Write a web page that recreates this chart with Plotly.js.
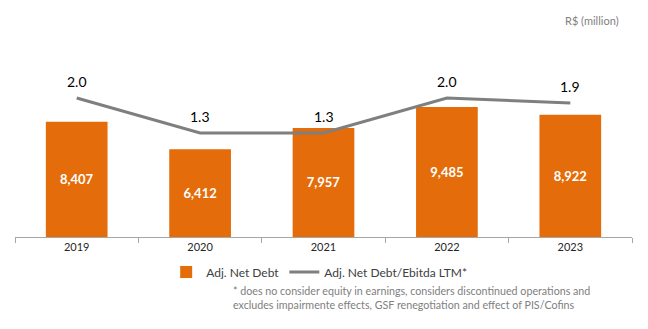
<!DOCTYPE html>
<html>
<head>
<meta charset="utf-8">
<script src="https://cdn.plot.ly/plotly-3.0.1.min.js"></script>
<style>html,body{margin:0;padding:0;background:#fff;}#chart{width:648px;height:329px;}</style>
</head>
<body>
<div id="chart"></div>
<script>
const years = ['2019', '2020', '2021', '2022', '2023'];
const netDebt = [8407, 6412, 7957, 9485, 8922];
const leverage = [2.0, 1.3, 1.3, 2.0, 1.9];
const seriesNames = ['Adj. Net Debt', 'Adj. Net Debt/Ebitda LTM*'];

const FONT = 'Lato, "Open Sans", "DejaVu Sans", sans-serif';

const traces = [
  {
    type: 'bar', x: years, y: netDebt, name: seriesNames[0],
    marker: {color: '#E46C0A'},
    texttemplate: '%{y:,.0f}', textposition: 'inside', insidetextanchor: 'middle',
    textfont: {color: '#ffffff', size: 13, family: FONT, weight: 'bold'},
    hoverinfo: 'skip'
  },
  {
    type: 'scatter', mode: 'lines', x: years, y: leverage, yaxis: 'y2', name: seriesNames[1],
    line: {color: '#7F7F7F', width: 3},
    hoverinfo: 'skip'
  }
];

const lineLabels = years.map((yr, i) => ({
  text: leverage[i].toFixed(1), x: i, y: leverage[i], xref: 'x', yref: 'y2',
  showarrow: false, yshift: 17, font: {size: 14, color: '#000000', family: FONT}
}));

const layout = {
  width: 648, height: 329,
  margin: {l: 15, r: 16, t: 20, b: 92},
  paper_bgcolor: '#ffffff', plot_bgcolor: '#ffffff',
  font: {family: FONT, color: '#404040'},
  bargap: 0.5,
  showlegend: true,
  legend: {orientation: 'h', x: 0.245, y: -0.095, xanchor: 'left', yanchor: 'top',
           font: {size: 12, color: '#404040', family: FONT}, itemwidth: 30, tracegroupgap: 0},
  xaxis: {type: 'category', categoryarray: years, range: [-0.5, 4.5], showline: true, linecolor: '#A6A6A6', linewidth: 1,
          ticks: 'outside', tickson: 'boundaries', ticklen: 5, tickcolor: '#A6A6A6',
          tickfont: {size: 11, color: '#262626', family: FONT}, showgrid: false, zeroline: false},
  yaxis: {range: [0, 15840], visible: false, showgrid: false, zeroline: false},
  yaxis2: {range: [-0.78, 3.56], overlaying: 'y', side: 'right', visible: false, showgrid: false, zeroline: false},
  annotations: lineLabels.concat([
    {text: 'R$ (million)', xref: 'paper', yref: 'paper', x: (621 - 15) / 617, y: 1.0, xanchor: 'right', yanchor: 'middle',
     showarrow: false, font: {size: 11, color: '#7F7F7F', family: FONT}},
    {text: '* does no consider equity in earnings, considers discontinued operations and<br>excludes impairmente effects, GSF renegotiation and effect of PIS/Cofins',
     xref: 'paper', yref: 'paper', x: (231 - 15) / 617, y: (237 - 282) / 217, xanchor: 'left', yanchor: 'top',
     align: 'left', showarrow: false, font: {size: 10.7, color: '#808080', family: FONT}}
  ])
};

Plotly.newPlot('chart', traces, layout, {displayModeBar: false, staticPlot: true});
</script>
</body>
</html>
